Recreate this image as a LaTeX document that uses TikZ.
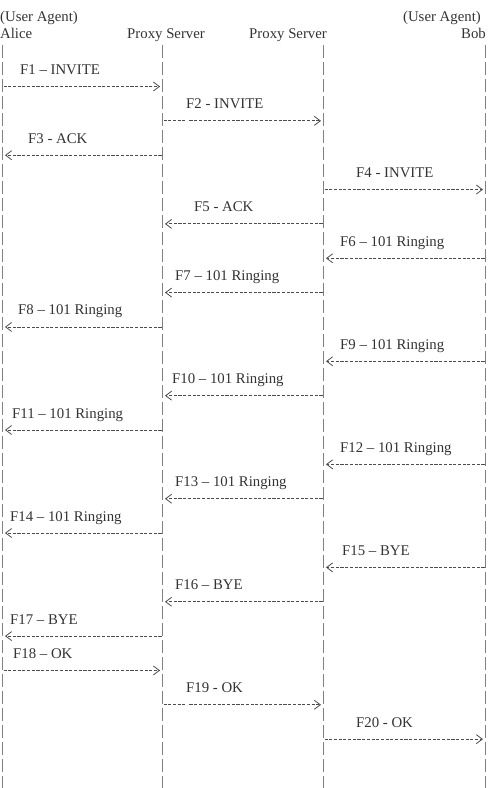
\documentclass[tikz,border=0pt]{standalone}
\usepackage{fontspec}
\setmainfont{Liberation Serif}
\usetikzlibrary{arrows.meta}

\begin{document}
\begin{tikzpicture}[
  x=1pt,y=-1pt,
  every node/.style={font=\fontsize{14.8}{17}\selectfont,text=black!80,inner sep=0pt},
  life/.style={draw=black!50,line width=1.1pt,dash pattern=on 13pt off 4pt},
  msg/.style={draw=black!70,line width=0.9pt,dash pattern=on 3.1pt off 1.6pt,
    -{Straight Barb[length=6pt,width=9pt,line width=0.8pt]},shorten >=2.5pt,shorten <=1pt},
  brk/.style={msg,dash pattern=on 3.1pt off 1.6pt on 3.1pt off 1.6pt on 3.1pt off 1.6pt
    on 3.1pt off 1.6pt on 3.1pt off 4pt
    on 3.1pt off 1.6pt on 3.1pt off 1.6pt on 3.1pt off 1.6pt on 3.1pt off 1.6pt
    on 3.1pt off 1.6pt on 3.1pt off 1.6pt on 3.1pt off 1.6pt on 3.1pt off 1.6pt
    on 3.1pt off 1.6pt on 3.1pt off 1.6pt on 3.1pt off 1.6pt on 3.1pt off 1.6pt
    on 3.1pt off 1.6pt on 3.1pt off 1.6pt on 3.1pt off 1.6pt on 3.1pt off 1.6pt
    on 3.1pt off 1.6pt on 3.1pt off 1.6pt on 3.1pt off 1.6pt on 3.1pt off 1.6pt
    on 3.1pt off 1.6pt on 3.1pt off 1.6pt on 3.1pt off 1.6pt on 3.1pt off 1.6pt
    on 3.1pt off 1.6pt on 3.1pt off 1.6pt on 3.1pt off 1.6pt on 3.1pt off 1.6pt
    on 3.1pt off 1.6pt on 3.1pt off 1.6pt on 3.1pt off 1.6pt on 3.1pt off 1.6pt},
  lbl/.style={anchor=base west}
]
  \useasboundingbox (0,0) rectangle (494,788);

  % header
  \node[anchor=base west] (uaa) at (0,21) {(User Agent)};
  \node[anchor=base west] (alice) at (0,38) {Alice};
  \node[anchor=base west] (pxa) at (127,38) {Proxy Server};
  \node[anchor=base west] (pxb) at (249,38) {Proxy Server};
  \node[anchor=base east] (uab) at (481,21) {(User Agent)};
  \node[anchor=base east] (bob) at (486,38) {Bob};

  % lifelines
  \foreach \n/\x in {al/2.5,pa/162.5,pb/323.5,bo/485.5} {
    \coordinate (\n0) at (\x,45);
    \coordinate (\n99) at (\x,788);
    \draw[life] (\n0) -- (\n99);
    \foreach \i in {1,...,20} {
      \pgfmathsetmacro\y{86.5+(\i-1)*34.35}
      \coordinate (\n\i) at (\x,\y);
    }
  }

  % messages
  \foreach \i/\from/\to/\st/\lx/\txt in {
    1/al/pa/msg/20/F1 -- INVITE,
    2/pa/pb/brk/186/F2 - INVITE,
    3/pa/al/msg/28/F3 - ACK,
    4/pb/bo/msg/356/F4 - INVITE,
    5/pb/pa/msg/194/F5 - ACK,
    6/bo/pb/msg/340/F6 -- 101 Ringing,
    7/pb/pa/msg/175/F7 -- 101 Ringing,
    8/pa/al/msg/18/F8 -- 101 Ringing,
    9/bo/pb/msg/340/F9 -- 101 Ringing,
    10/pb/pa/msg/172/F10 -- 101 Ringing,
    11/pa/al/msg/12/F11 -- 101 Ringing,
    12/bo/pb/msg/340/F12 -- 101 Ringing,
    13/pb/pa/msg/175/F13 -- 101 Ringing,
    14/pa/al/msg/10/F14 -- 101 Ringing,
    15/bo/pb/msg/342/F15 -- BYE,
    16/pb/pa/msg/175/F16 -- BYE,
    17/pa/al/msg/10/F17 -- BYE,
    18/al/pa/msg/13/F18 -- OK,
    19/pa/pb/brk/186/F19 - OK,
    20/pb/bo/msg/356/F20 - OK} {
    \pgfmathsetmacro\ly{86.5+(\i-1)*34.35-12}
    \node[lbl] (f\i) at (\lx,\ly) {\txt};
    \draw[\st] (\from\i) -- (\to\i);
  }
\end{tikzpicture}
\end{document}
